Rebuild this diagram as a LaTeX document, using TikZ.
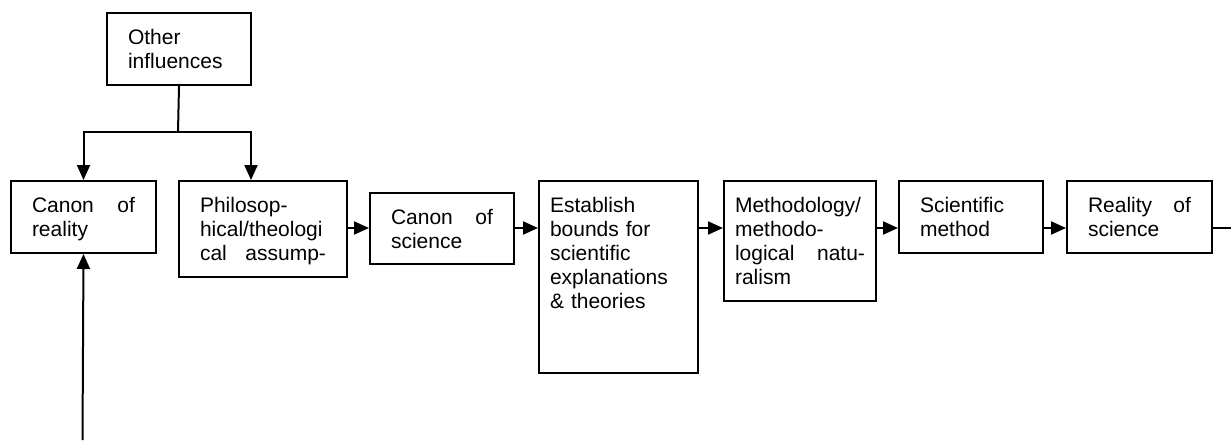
\documentclass[tikz,border=0pt]{standalone}
\usepackage{fontspec}
\setmainfont{Liberation Sans}
\usetikzlibrary{arrows.meta}

\begin{document}
\begin{tikzpicture}[x=1pt, y=-1pt,
    caja/.style={draw, line width=2pt, anchor=north west, inner ysep=0pt,
      text height=31pt, font=\fontsize{21}{24}\selectfont},
    linea/.style={line width=2pt},
    flecha/.style={line width=2pt, -{Triangle[length=15pt, width=13pt]}}]
  \useasboundingbox (0,0) rectangle (1231,440);

  % Otras influencias
  \node[caja, inner xsep=21pt, text width=102pt, text depth=41pt] (other) at (106,12) {Other\\influences};
  \coordinate (cruce) at (178,132);

  % Fila de cajas
  \node[caja, inner xsep=21pt, text width=103pt, text depth=41pt] (reality) at (10,180) {Canon\hfill of\\reality};
  \node[caja, inner xsep=21pt, text width=126pt, text depth=65pt] (philo) at (178,180) {Philosop-\\hical/theologi\\cal\hfill assump-};
  \node[caja, inner xsep=21pt, text width=102pt, text depth=40pt] (cansci) at (369,192) {Canon\hfill of\\science};
  \node[caja, inner xsep=11pt, text width=137pt, text depth=161pt] (establish) at (538,180) {Establish\\bounds for\\scientific\\explanations\\\& theories};
  \node[caja, inner xsep=11pt, text width=130pt, text depth=89pt] (method) at (723,180) {Methodology/\\methodo-\\logical\hfill natu-\\ralism};
  \node[caja, inner xsep=21pt, text width=102pt, text depth=41pt] (scimethod) at (898,180) {Scientific\\method};
  \node[caja, inner xsep=21pt, text width=103pt, text depth=41pt] (realsci) at (1066,180) {Reality\hfill of\\science};
  \coordinate (fila) at (0,228);
  \coordinate (salida) at (1231,228);
  \coordinate (origen) at (82.5,440);

  % Conectores de arriba
  \draw[linea] (other.south) -- (cruce);
  \draw[flecha] (cruce) -| (reality.north);
  \draw[flecha] (cruce) -| ([xshift=-12pt]philo.north);

  % Flechas de la fila
  \draw[flecha] (philo.east |- fila) -- (cansci.west |- fila);
  \draw[flecha] (cansci.east |- fila) -- (establish.west |- fila);
  \draw[flecha] (establish.east |- fila) -- (method.west |- fila);
  \draw[flecha] (method.east |- fila) -- (scimethod.west |- fila);
  \draw[flecha] (scimethod.east |- fila) -- (realsci.west |- fila);
  \draw[linea] (realsci.east |- fila) -- (salida);

  % Retorno desde abajo
  \draw[flecha] (origen) -- (reality.south);
\end{tikzpicture}
\end{document}
